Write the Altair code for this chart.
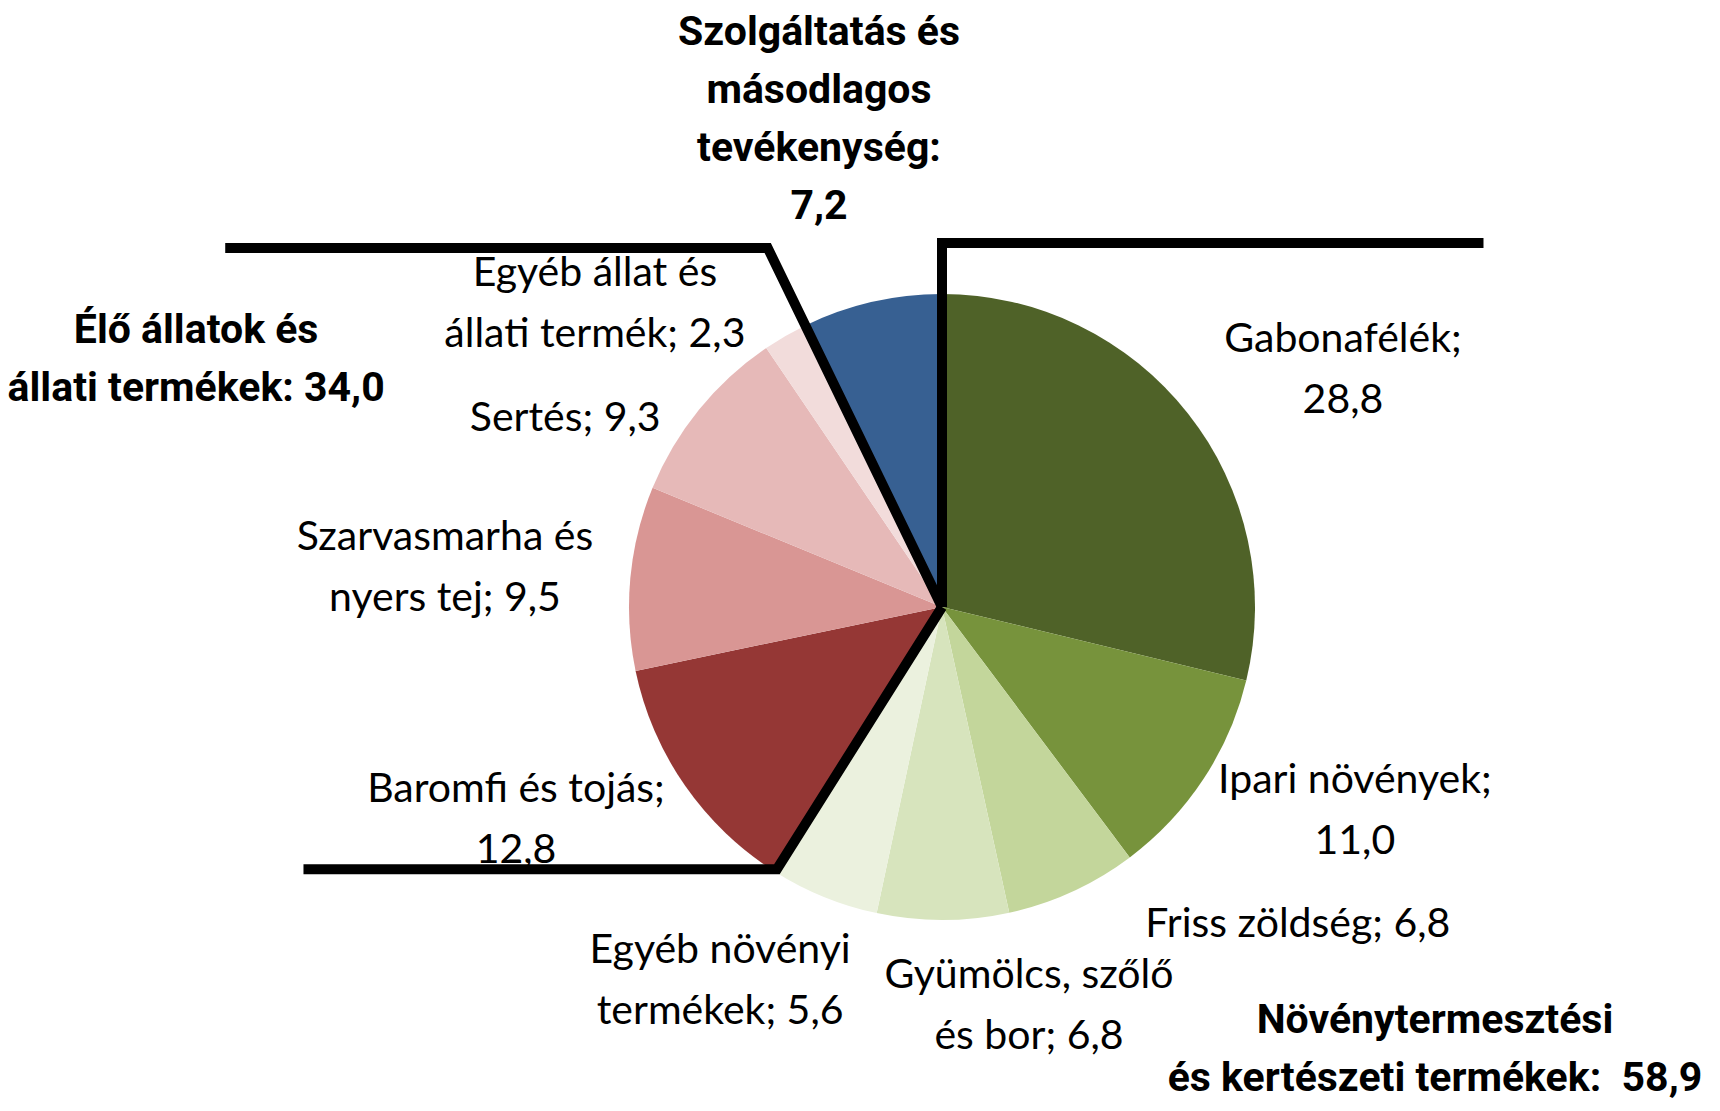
import math
import altair as alt
import pandas as pd

# ---- data -------------------------------------------------------------
categories = [
    "Gabonafélék", "Ipari növények", "Friss zöldség", "Gyümölcs, szőlő és bor",
    "Egyéb növényi termékek", "Baromfi és tojás", "Szarvasmarha és nyers tej",
    "Sertés", "Egyéb állat és állati termék", "Szolgáltatás és másodlagos tevékenység",
]
values = [28.8, 11.0, 6.8, 6.8, 5.6, 12.8, 9.5, 9.3, 2.3, 7.2]
colors = ["#4f6228", "#77933c", "#c3d69b", "#d7e4bd", "#ebf1de",
          "#953735", "#d99694", "#e6b9b8", "#f2dcdb", "#376092"]

slice_labels = [
    "Gabonafélék;\n28,8", "Ipari növények;\n11,0", "Friss zöldség; 6,8",
    "Gyümölcs, szőlő\nés bor; 6,8", "Egyéb növényi\ntermékek; 5,6",
    "Baromfi és tojás;\n12,8", "Szarvasmarha és\nnyers tej; 9,5",
    "Sertés; 9,3", "Egyéb állat és\nállati termék; 2,3",
]
group_labels = [
    "Szolgáltatás és\nmásodlagos\ntevékenység:\n7,2",
    "Élő állatok és\nállati termékek: 34,0",
    "Növénytermesztési\nés kertészeti termékek:\u00a0 58,9",
]

# ---- layout (first-line anchors in units of the pie radius, centre = 0,0) ----
slice_label_pos = [(1.281, 0.853), (1.319, -0.556), (1.137, -1.016), (0.278, -1.179),
                   (-0.709, -1.099), (-1.361, -0.585), (-1.588, 0.222),
                   (-1.204, 0.601), (-1.109, 1.064)]
group_label_pos = [(-0.393, 1.835), (-2.383, 0.882), (1.575, -1.322)]

W, H = 1704, 1095
CX, CY, R = 934, 599, 313          # pie centre & radius in plot pixels
x_dom = [-CX / R, (W - CX) / R]
y_dom = [-(H - CY) / R, CY / R]

# separator lines follow slice boundaries
total = sum(values)
def boundary(after_idx):
    return 2 * math.pi * sum(values[: after_idx + 1]) / total

rows = []
# (boundary angle, ray length, horizontal end x)
seps = [(0.0, 1.163, 1.73), (boundary(4), 0.99, -2.04), (boundary(8), 1.275, -2.29)]
for k, (th, L, xe) in enumerate(seps):
    px, py = math.sin(th) * L, math.cos(th) * L
    for j, (x, y) in enumerate([(0.0, 0.0), (px, py), (xe, py)]):
        rows.append({"line": k, "o": j, "x": x, "y": y})
lines_df = pd.DataFrame(rows)

pie_df = pd.DataFrame({"cat": categories, "value": values, "order": range(len(values))})
lab_df = pd.DataFrame({"text": slice_labels,
                       "x": [p[0] for p in slice_label_pos],
                       "y": [p[1] for p in slice_label_pos]})
grp_df = pd.DataFrame({"text": group_labels,
                       "x": [p[0] for p in group_label_pos],
                       "y": [p[1] for p in group_label_pos]})

xs = alt.Scale(domain=x_dom, nice=False, zero=False)
ys = alt.Scale(domain=y_dom, nice=False, zero=False)

pie = alt.Chart(pie_df).mark_arc(outerRadius=R).encode(
    theta=alt.Theta("value:Q", stack=True),
    order=alt.Order("order:Q"),
    color=alt.Color("cat:N", scale=alt.Scale(domain=categories, range=colors), legend=None),
    x=alt.datum(0, scale=xs, axis=None),
    y=alt.datum(0, scale=ys, axis=None),
)

text_regular = alt.Chart(lab_df).mark_text(
    font="Lato", fontSize=41, lineBreak="\n", lineHeight=61,
    align="center", baseline="middle", color="black",
).encode(x=alt.X("x:Q", scale=xs, axis=None), y=alt.Y("y:Q", scale=ys, axis=None), text="text:N")

text_bold = alt.Chart(grp_df).mark_text(
    font="Roboto", fontSize=41, fontWeight="bold", lineBreak="\n", lineHeight=58,
    align="center", baseline="middle", color="black",
).encode(x=alt.X("x:Q", scale=xs, axis=None), y=alt.Y("y:Q", scale=ys, axis=None), text="text:N")

seplines = alt.Chart(lines_df).mark_line(
    color="black", strokeWidth=10, strokeJoin="miter", strokeCap="butt",
).encode(
    x=alt.X("x:Q", scale=xs, axis=None),
    y=alt.Y("y:Q", scale=ys, axis=None),
    detail="line:N",
    order="o:Q",
)

chart = alt.layer(pie, text_regular, text_bold, seplines).properties(
    width=W, height=H, autosize=alt.AutoSizeParams(type="none"), padding=0,
    background="white",
).configure_view(stroke=None)

chart.save("out.html", embed_options={"renderer": "svg", "actions": False})
